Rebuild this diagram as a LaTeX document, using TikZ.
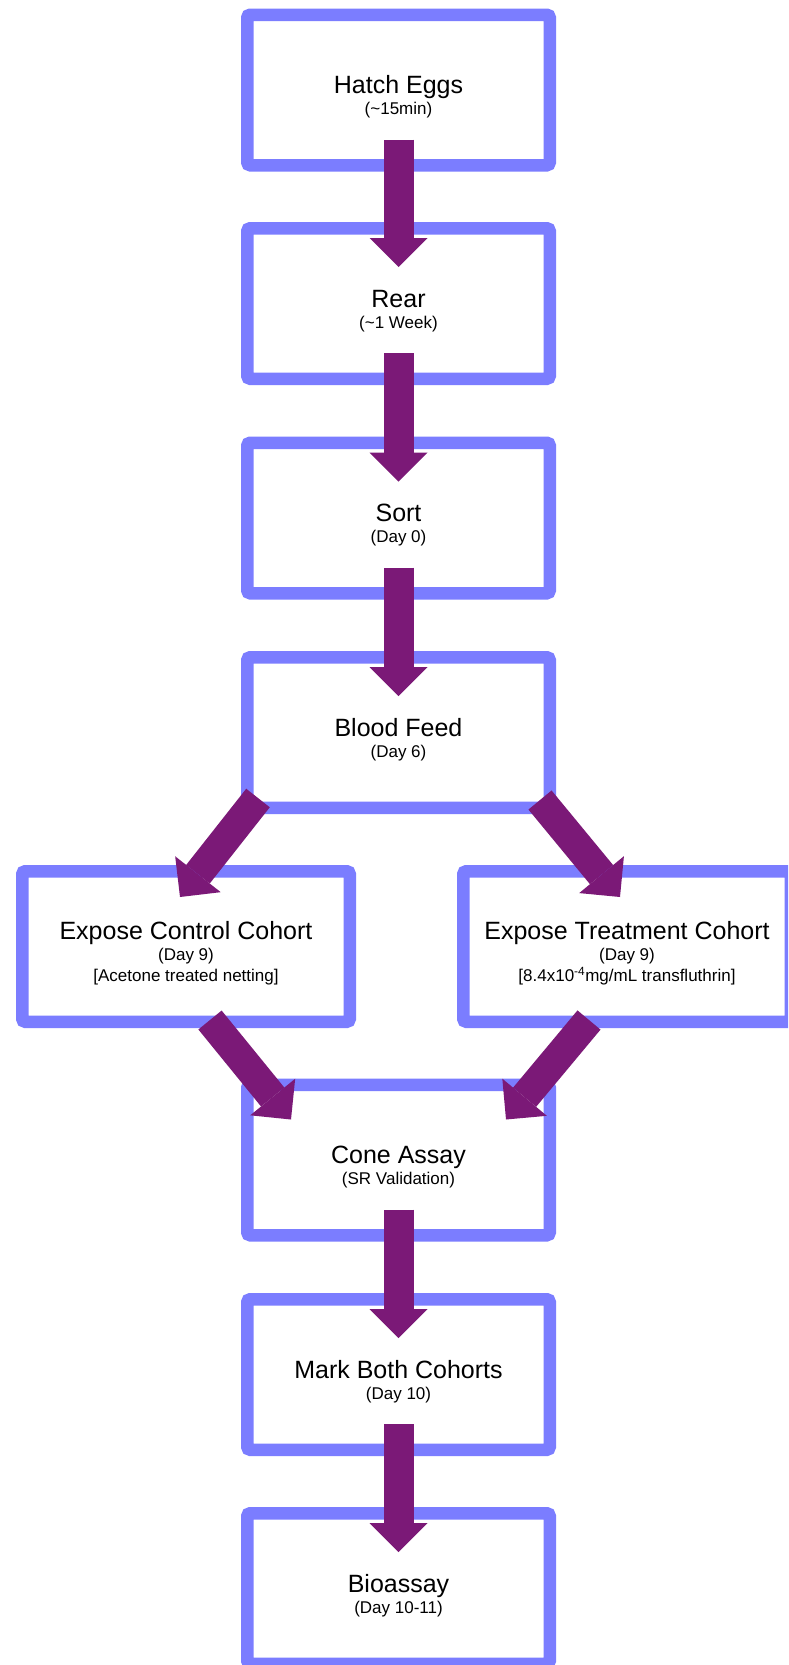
\documentclass[tikz,border=0pt]{standalone}
\usepackage{fontspec}
\setmainfont{Liberation Sans}
\usetikzlibrary{arrows.meta}

\definecolor{boxblue}{RGB}{123,125,255}
\definecolor{flowpurple}{RGB}{123,25,119}
\newcommand{\steptitle}[1]{{\fontsize{25}{30}\selectfont\rule{0pt}{32pt}#1}}

\begin{document}
\begin{tikzpicture}[x=1pt,y=-1pt,
  stepbox/.style={draw=boxblue, line width=12.5pt, rounded corners=3pt, fill=white,
    minimum width=302.5pt, minimum height=150.5pt, align=center,
    font=\fontsize{17}{21}\selectfont},
  widebox/.style={stepbox, minimum width=327.5pt},
  flow/.style={draw=flowpurple, line width=30pt,
    -{Triangle[width=58pt,length=29pt,line width=0pt]}}]
% page frame
\useasboundingbox (0,0) rectangle (788,1665);
\clip (0,0) rectangle (788,1665);
\fill[white] (0,0) rectangle (788,1665);

% main column
\node[stepbox] (hatch) at (398.5,90) {\steptitle{Hatch Eggs}\\(\textasciitilde15min)};
\node[stepbox] (rear) at (398.5,303.5) {\steptitle{Rear}\\(\textasciitilde1 Week)};
\node[stepbox] (sort) at (398.5,518) {\steptitle{Sort}\\(Day 0)};
\node[stepbox] (feed) at (398.5,732.5) {\steptitle{Blood Feed}\\(Day 6)};

% the two cohorts
\node[widebox] (control) at (186,946.5) {\steptitle{Expose Control Cohort}\\(Day 9)\\{}[Acetone treated netting]};
\node[widebox] (treat) at (627,946.5) {\steptitle{Expose Treatment Cohort}\\(Day 9)\\{}[8.4x10\textsuperscript{-4}mg/mL transfluthrin]};

% back to one column
\node[stepbox] (cone) at (398.5,1160) {\steptitle{Cone Assay}\\(SR Validation)};
\node[stepbox] (mark) at (398.5,1374.5) {\steptitle{Mark Both Cohorts}\\(Day 10)};
\node[stepbox] (bio) at (398.5,1588.5) {\steptitle{Bioassay}\\(Day 10-11)};

% straight arrows
\foreach \from/\to in {hatch/rear, rear/sort, sort/feed, cone/mark, mark/bio}
  \draw[flow] ([yshift=32pt]\from.south) -- ([yshift=-45pt]\to.north);

% split and join
\draw[flow] ([xshift=17pt,yshift=16pt]feed.south west) -- ([xshift=-6pt,yshift=-32pt]control.north);
\draw[flow] ([xshift=-16pt,yshift=14pt]feed.south east) -- ([xshift=-7pt,yshift=-32pt]treat.north);
\draw[flow] ([xshift=24pt,yshift=8pt]control.south) -- ([xshift=50pt,yshift=-41pt]cone.north west);
\draw[flow] ([xshift=-38pt,yshift=8pt]treat.south) -- ([xshift=-50pt,yshift=-41pt]cone.north east);
\end{tikzpicture}
\end{document}
